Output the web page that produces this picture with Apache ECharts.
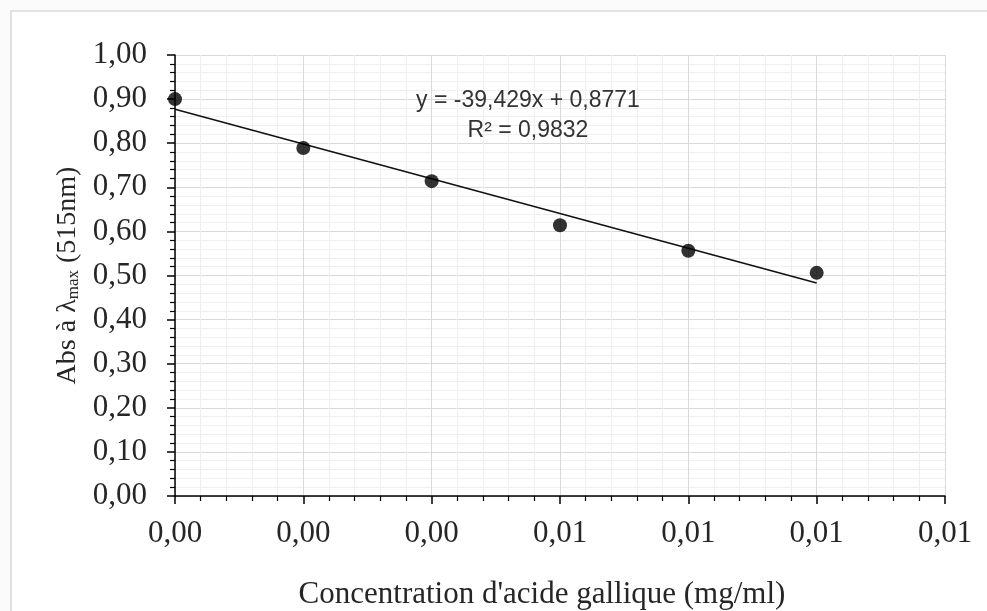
<!DOCTYPE html>
<html>
<head>
<meta charset="utf-8">
<script src="https://cdn.jsdelivr.net/npm/echarts@6/dist/echarts.min.js"></script>
<style>
html,body{margin:0;padding:0;background:#fbfbfb;}
#chart{width:987px;height:611px;}
</style>
</head>
<body>
<div id="chart"></div>
<script>
// Data
const concentrations = [0.000, 0.002, 0.004, 0.006, 0.008, 0.010];
const absorbances = [0.900, 0.789, 0.714, 0.614, 0.556, 0.506];
// Trendline y = -39,429x + 0,8771 (endpoints over the data range)
const trendX = [0.000, 0.010];
const trendY = [0.8771, 0.4828];
const equationText = 'y = -39,429x + 0,8771';
const r2Text = 'R² = 0,9832';
const xTitle = "Concentration d'acide gallique (mg/ml)";
const yTitle = 'Abs à λ{sub|max} (515nm)';

const fmt = v => v.toFixed(2).replace('.', ',');
const serif = '"Liberation Serif", "Times New Roman", serif';
const txt = '#262626';

const chart = echarts.init(document.getElementById('chart'), null, {renderer: 'canvas'});
chart.setOption({
  backgroundColor: '#fbfbfb',
  animation: false,
  graphic: [
    {type: 'rect', z: -10, silent: true,
     shape: {x: 11, y: 11, width: 1100, height: 700},
     style: {fill: '#ffffff', stroke: '#d9d9d9', lineWidth: 1.5}},
    {type: 'text', z: 10, x: 528, y: 101,
     style: {text: equationText, fill: '#333333', font: '23px "Liberation Sans", Arial, sans-serif', textAlign: 'center', textVerticalAlign: 'middle'}},
    {type: 'text', z: 10, x: 528, y: 131,
     style: {text: r2Text, fill: '#333333', font: '23px "Liberation Sans", Arial, sans-serif', textAlign: 'center', textVerticalAlign: 'middle'}}
  ],
  grid: {left: 175, right: 42, top: 55, bottom: 115, containLabel: false, outerBoundsMode: 'none'},
  xAxis: {
    type: 'value', min: 0, max: 0.012, interval: 0.002,
    name: xTitle, nameLocation: 'middle', nameGap: 99,
    nameTextStyle: {fontFamily: serif, fontSize: 31, color: txt, verticalAlign: 'middle', padding: [0, 36, 0, 0]},
    axisLine: {show: true, onZero: false, lineStyle: {color: '#000', width: 1.5}},
    axisTick: {show: true, length: 8, lineStyle: {color: '#000', width: 1.5}},
    minorTick: {show: true, splitNumber: 5, length: 5, lineStyle: {color: '#000', width: 1.2}},
    axisLabel: {formatter: fmt, fontFamily: serif, fontSize: 31, color: txt, margin: 22},
    splitLine: {show: true, lineStyle: {color: '#d9d9d9', width: 1}},
    minorSplitLine: {show: true, lineStyle: {color: '#efefef', width: 1}}
  },
  yAxis: {
    type: 'value', min: 0, max: 1, interval: 0.1,
    name: yTitle, nameLocation: 'middle', nameGap: 93, nameRotate: 90,
    nameTextStyle: {fontFamily: serif, fontSize: 28, color: txt, align: 'center', verticalAlign: 'middle',
      rich: {sub: {fontFamily: serif, fontSize: 17, color: txt, verticalAlign: 'bottom', padding: [12, 0, 0, 0]}}},
    axisLine: {show: true, onZero: false, lineStyle: {color: '#000', width: 1.5}},
    axisTick: {show: true, length: 8, lineStyle: {color: '#000', width: 1.5}},
    minorTick: {show: true, splitNumber: 5, length: 5, lineStyle: {color: '#000', width: 1.2}},
    axisLabel: {formatter: fmt, fontFamily: serif, fontSize: 31, color: txt, margin: 28},
    splitLine: {show: true, lineStyle: {color: '#d9d9d9', width: 1}},
    minorSplitLine: {show: true, lineStyle: {color: '#efefef', width: 1}}
  },
  series: [
    {type: 'line', z: 3, symbol: 'none', silent: true,
     data: trendX.map((x, i) => [x, trendY[i]]),
     lineStyle: {color: '#111', width: 1.6}},
    {type: 'scatter', z: 5, symbol: 'circle', symbolSize: 14,
     data: concentrations.map((x, i) => [x, absorbances[i]]),
     itemStyle: {color: '#000'}}
  ]
});
</script>
</body>
</html>
